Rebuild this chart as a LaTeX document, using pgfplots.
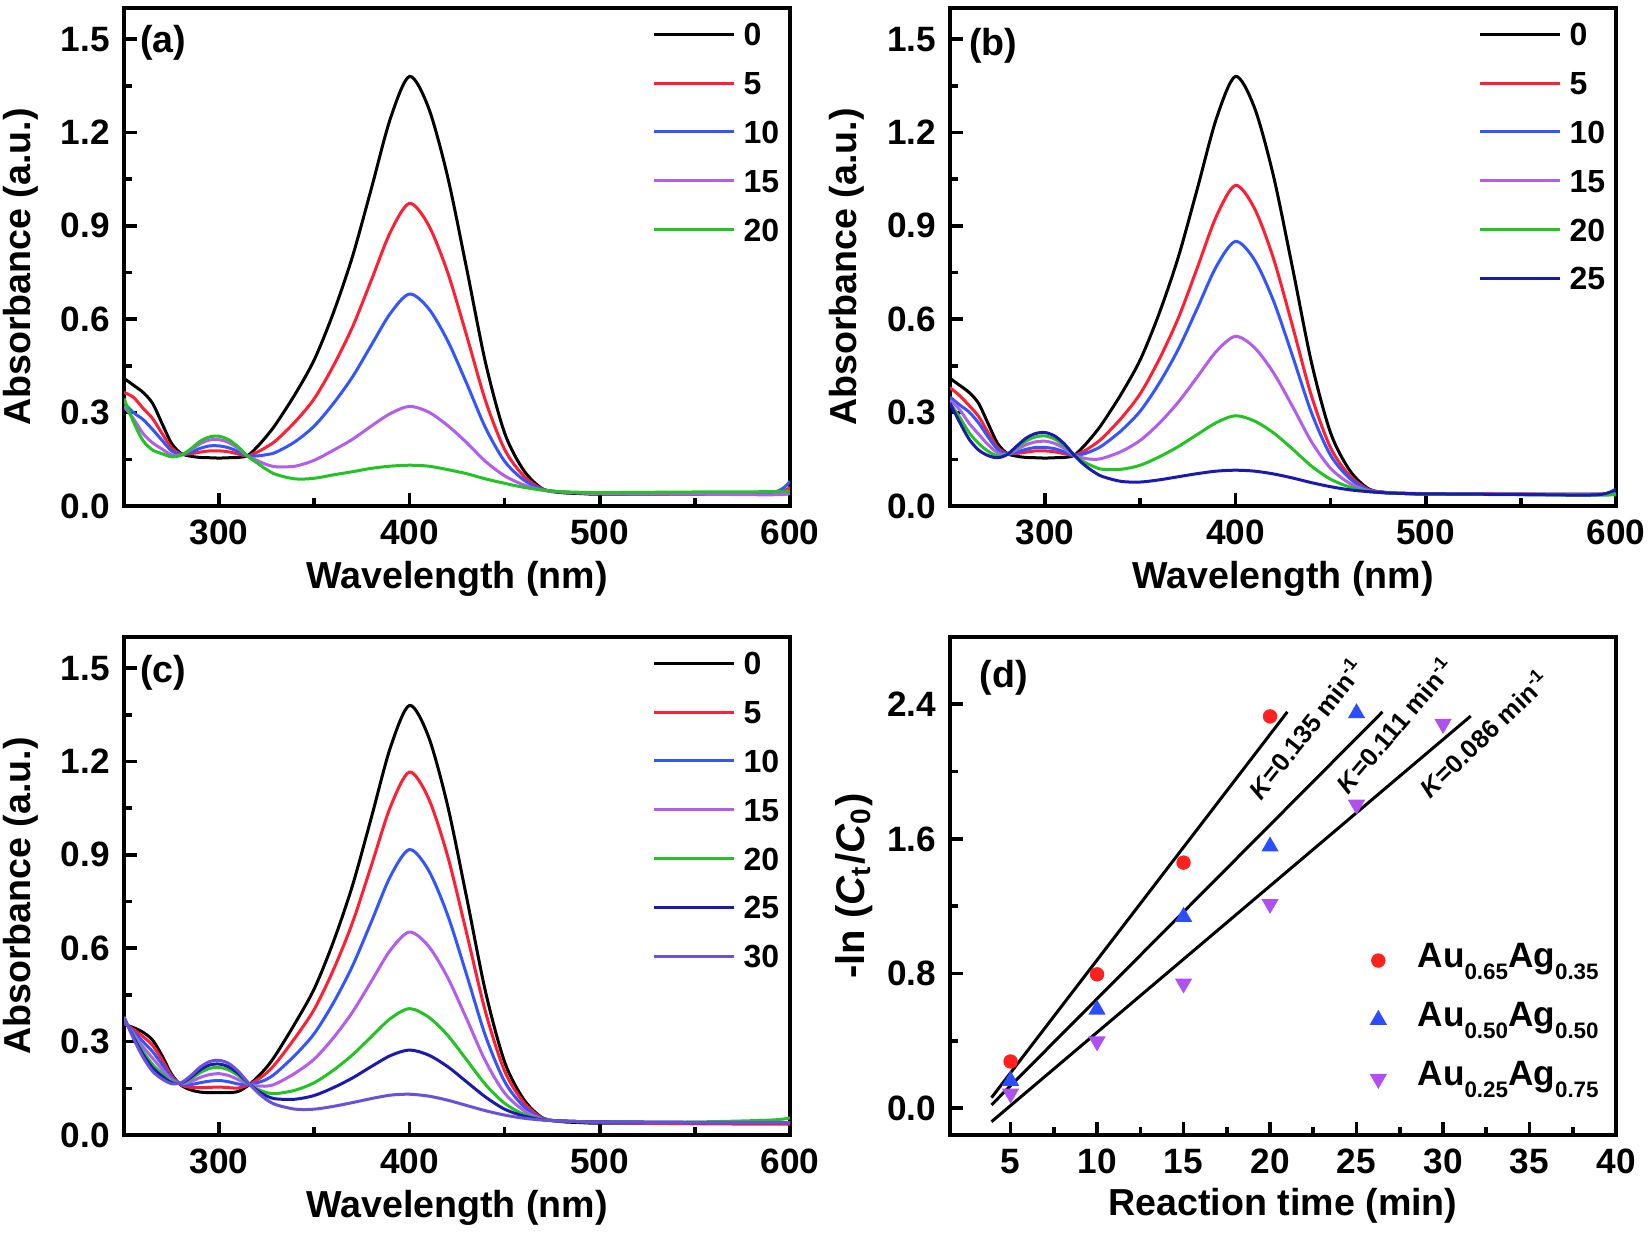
\documentclass[border=0pt]{standalone}
\usepackage{fontspec}
\setmainfont{Liberation Sans}
\usepackage{pgfplots}
\usepackage{pgfplotstable}
\pgfplotsset{compat=1.18}

\definecolor{cR}{HTML}{FF1E32}
\definecolor{cB}{HTML}{3355FF}
\definecolor{cV}{HTML}{B35CF0}
\definecolor{cG}{HTML}{22C422}
\definecolor{cN}{HTML}{1A1AB0}
\definecolor{cP}{HTML}{6A4FE0}
\definecolor{mR}{HTML}{FF2020}
\definecolor{mB}{HTML}{2B4CFF}
\definecolor{mV}{HTML}{B050F0}

\newcommand\subs[1]{\raisebox{-2.9bp}{\fontsize{5.6bp}{6bp}\selectfont #1}}

\pgfplotstableread{
x c0 c5 c10 c15 c20
250 .410 .365 .330 .320 .345
255 .388 .349 .300 .280 .270
260 .365 .314 .278 .233 .210
265 .330 .281 .246 .203 .180
270 .265 .233 .211 .183 .168
275 .201 .187 .177 .164 .158
280 .169 .167 .166 .164 .163
285 .160 .168 .173 .180 .183
290 .156 .173 .185 .200 .208
295 .155 .177 .193 .212 .222
300 .154 .177 .193 .213 .224
305 .155 .174 .187 .204 .213
310 .156 .167 .175 .185 .190
315 .162 .161 .161 .160 .160
320 .190 .173 .161 .146 .138
325 .225 .190 .165 .133 .117
330 .265 .211 .173 .126 .101
340 .360 .271 .207 .128 .087
350 .470 .345 .257 .147 .089
360 .620 .450 .329 .179 .100
370 .800 .574 .414 .214 .110
380 1.020 .726 .517 .257 .121
390 1.245 .880 .619 .297 .128
400 1.380 .972 .681 .320 .131
410 1.280 .903 .635 .302 .128
420 1.060 .752 .532 .259 .117
430 .765 .549 .395 .204 .104
440 .460 .338 .251 .143 .087
450 .235 .182 .144 .097 .073
460 .115 .097 .084 .068 .060
470 .055 .054 .053 .051 .051
480 .043 .045 .045 .045 .046
490 .040 .042 .042 .042 .044
500 .038 .040 .040 .040 .043
550 .038 .040 .040 .038 .045
590 .038 .040 .042 .036 .046
600 .040 .060 .080 .040 .048
}\tA

\pgfplotstableread{
x c0 c5 c10 c15 c20 c25
250 .410 .380 .350 .340 .330 .330
255 .388 .355 .325 .310 .286 .270
260 .365 .323 .302 .266 .236 .215
265 .330 .288 .267 .231 .201 .180
270 .265 .236 .222 .197 .176 .162
275 .201 .188 .182 .171 .161 .155
280 .169 .168 .167 .166 .166 .165
285 .160 .169 .173 .181 .188 .192
290 .156 .173 .182 .197 .209 .218
295 .155 .177 .188 .206 .222 .233
300 .154 .177 .188 .208 .225 .236
305 .155 .174 .184 .201 .215 .225
310 .156 .168 .174 .185 .194 .200
315 .162 .163 .163 .164 .165 .165
320 .190 .175 .167 .154 .143 .135
325 .225 .194 .178 .150 .128 .112
330 .265 .218 .194 .153 .118 .095
340 .360 .282 .242 .175 .118 .079
350 .470 .361 .305 .211 .131 .077
360 .620 .472 .395 .266 .158 .084
370 .800 .604 .504 .334 .191 .094
380 1.020 .766 .636 .415 .230 .104
390 1.245 .931 .770 .497 .268 .112
400 1.380 1.030 .850 .545 .290 .115
410 1.280 .956 .791 .509 .273 .112
420 1.060 .795 .659 .428 .235 .103
430 .765 .578 .482 .320 .183 .090
440 .460 .353 .299 .206 .128 .075
450 .235 .187 .163 .121 .086 .062
460 .115 .098 .089 .073 .061 .052
470 .055 .053 .051 .049 .047 .046
480 .043 .043 .042 .042 .042 .042
490 .040 .041 .040 .040 .040 .040
500 .038 .040 .039 .039 .039 .039
550 .038 .038 .037 .037 .036 .037
590 .038 .037 .037 .036 .035 .036
600 .040 .040 .040 .038 .036 .055
}\tB

\pgfplotstableread{
x c0 c5 c10 c15 c20 c25 c30
250 .355 .359 .364 .370 .374 .377 .380
255 .345 .339 .332 .325 .318 .314 .310
260 .330 .316 .300 .283 .268 .259 .250
265 .305 .288 .268 .247 .227 .216 .205
270 .255 .242 .227 .211 .197 .189 .180
275 .195 .190 .184 .178 .172 .168 .165
280 .160 .161 .163 .165 .166 .167 .168
285 .145 .153 .162 .171 .180 .185 .190
290 .138 .152 .168 .185 .200 .209 .218
295 .136 .153 .173 .194 .214 .225 .236
300 .136 .154 .175 .197 .217 .228 .240
305 .136 .152 .171 .191 .209 .219 .230
310 .140 .151 .164 .178 .191 .198 .205
315 .158 .160 .162 .165 .167 .169 .170
320 .185 .177 .168 .158 .148 .143 .138
325 .218 .200 .179 .157 .136 .125 .113
330 .260 .232 .200 .165 .133 .116 .097
340 .360 .313 .257 .199 .144 .115 .083
350 .470 .404 .326 .244 .168 .127 .083
360 .620 .530 .424 .312 .208 .152 .092
370 .800 .681 .542 .394 .257 .183 .104
380 1.020 .866 .685 .494 .316 .220 .117
390 1.245 1.054 .831 .594 .374 .255 .128
400 1.380 1.166 .917 .652 .406 .273 .131
410 1.280 1.082 .851 .607 .379 .257 .125
420 1.060 .898 .708 .507 .321 .220 .112
430 .765 .650 .516 .374 .242 .171 .095
440 .460 .395 .318 .237 .162 .122 .078
450 .235 .206 .172 .135 .102 .083 .064
460 .115 .105 .092 .079 .067 .061 .054
470 .055 .054 .052 .051 .050 .049 .048
480 .043 .045 .045 .045 .045 .045 .045
490 .040 .043 .043 .043 .043 .043 .043
500 .038 .040 .042 .042 .042 .042 .042
550 .038 .036 .040 .040 .042 .040 .040
590 .038 .035 .040 .040 .048 .040 .040
600 .040 .035 .040 .040 .055 .040 .040
}\tC

\pgfplotsset{
  base/.style={
    scale only axis, width=166.5bp, height=124.5bp,
    axis line style={line width=1.1bp},
    tick align=inside, tick pos=left,
    major tick length=3.3bp, minor tick length=2bp,
    every tick/.style={line width=0.9bp, black},
    /pgf/number format/assume math mode=true,
    tick label style={font=\fontsize{8.8bp}{10bp}\selectfont\bfseries},
    label style={font=\fontsize{9.4bp}{11bp}\selectfont\bfseries},
    x label style={at={(axis description cs:0.5,-0.147)}, anchor=center},
    y label style={at={(axis description cs:-0.155,0.48)}, anchor=center},
    yticklabel style={/pgf/number format/.cd, fixed, fixed zerofill, precision=1},
  },
  spec/.style={
    base,
    xmin=250, xmax=600, ymin=0, ymax=1.6,
    xtick={300,400,500,600}, minor x tick num=1,
    ytick={0,0.3,0.6,0.9,1.2,1.5}, minor y tick num=1,
    xlabel={Wavelength (nm)}, ylabel={Absorbance (a.u.)},
    every axis plot/.append style={smooth, line width=0.75bp, no marks},
    legend cell align=left,
    legend image code/.code={\draw[##1, line width=0.75bp] (0bp,0bp) -- (20bp,0bp);},
    legend style={draw=none, fill=none, at={(0.985,0.972)}, anchor=north east,
      font=\fontsize{8bp}{9bp}\selectfont\bfseries,
      row sep=6.4bp, inner sep=0pt,
      nodes={inner sep=0pt, text height=5.8bp, text depth=0pt},
      /tikz/every odd column/.append style={column sep=2bp}},
  },
  kin/.style={
    legend image code/.code={\draw[##1] plot coordinates {(0bp,0bp)};},
  },
}

\begin{document}
\begin{tikzpicture}
\useasboundingbox (0,0) rectangle (412bp,308.75bp);

% (a)
\begin{axis}[spec, at={(31bp,182.25bp)}, anchor=south west]
\addplot[black] table[x=x,y=c0]{\tA};
\addplot[cR] table[x=x,y=c5]{\tA};
\addplot[cB] table[x=x,y=c10]{\tA};
\addplot[cV] table[x=x,y=c15]{\tA};
\addplot[cG] table[x=x,y=c20]{\tA};
\legend{0,5,10,15,20}
\node[font=\fontsize{9.4bp}{11bp}\selectfont\bfseries] at (axis description cs:0.059,0.93) {(a)};
\end{axis}

% (b)
\begin{axis}[spec, at={(237.5bp,182.25bp)}, anchor=south west]
\addplot[black] table[x=x,y=c0]{\tB};
\addplot[cR] table[x=x,y=c5]{\tB};
\addplot[cB] table[x=x,y=c10]{\tB};
\addplot[cV] table[x=x,y=c15]{\tB};
\addplot[cG] table[x=x,y=c20]{\tB};
\addplot[cN] table[x=x,y=c25]{\tB};
\legend{0,5,10,15,20,25}
\node[font=\fontsize{9.4bp}{11bp}\selectfont\bfseries] at (axis description cs:0.065,0.924) {(b)};
\end{axis}

% (c)
\begin{axis}[spec, at={(31bp,25bp)}, anchor=south west]
\addplot[black] table[x=x,y=c0]{\tC};
\addplot[cR] table[x=x,y=c5]{\tC};
\addplot[cB] table[x=x,y=c10]{\tC};
\addplot[cV] table[x=x,y=c15]{\tC};
\addplot[cG] table[x=x,y=c20]{\tC};
\addplot[cN] table[x=x,y=c25]{\tC};
\addplot[cP] table[x=x,y=c30]{\tC};
\legend{0,5,10,15,20,25,30}
\node[font=\fontsize{9.4bp}{11bp}\selectfont\bfseries] at (axis description cs:0.059,0.928) {(c)};
\end{axis}

% (d)
\begin{axis}[base, kin, at={(237.5bp,25bp)}, anchor=south west,
  xmin=1.5, xmax=40, ymin=-0.16, ymax=2.8,
  xtick={5,10,15,20,25,30,35,40}, minor x tick num=1,
  ytick={0,0.8,1.6,2.4}, minor y tick num=1,
  xticklabel style={/pgf/number format/.cd, fixed, precision=0},
  xlabel={Reaction time (min)},
  ylabel={-ln (\textit{C}\textsubscript{t}/\textit{C}\textsubscript{0})},
  y label style={at={(axis description cs:-0.144,0.5)}, font=\fontsize{10bp}{12bp}\selectfont\bfseries},
  x label style={at={(axis description cs:0.5,-0.142)}},
  legend cell align=left,
  legend style={draw=none, fill=none, at={(0.631,0.39)}, anchor=north west,
    font=\fontsize{8.8bp}{10bp}\selectfont\bfseries,
    row sep=5.3bp, inner sep=0pt,
    nodes={inner sep=0pt, text height=6.5bp, text depth=3bp},
    /tikz/every odd column/.append style={column sep=8bp}},
]
\addplot[black, line width=0.75bp, forget plot] coordinates {(3.9,0.062) (21.0,2.355)};
\addplot[black, line width=0.75bp, forget plot] coordinates {(3.9,0.019) (26.5,2.355)};
\addplot[black, line width=0.75bp, forget plot] coordinates {(3.9,-0.081) (31.6,2.33)};
\addplot[only marks, mark=*, mark size=1.6bp, color=mR, mark options={fill=mR, draw=mR}]
  coordinates {(5,0.277) (10,0.795) (15,1.459) (20,2.328)};
\addplot[only marks, mark=triangle*, mark size=2.1bp, color=mB, mark options={fill=mB, draw=mB}]
  coordinates {(5,0.162) (10,0.585) (15,1.137) (20,1.555) (25,2.347)};
\addplot[only marks, mark=triangle*, mark size=2.1bp, color=mV, mark options={fill=mV, draw=mV, rotate=180}]
  coordinates {(5,0.086) (10,0.396) (15,0.740) (20,1.213) (25,1.803) (30,2.283)};
\legend{Au\subs{0.65}Ag\subs{0.35}, Au\subs{0.50}Ag\subs{0.50}, Au\subs{0.25}Ag\subs{0.75}}
\node[font=\fontsize{9.4bp}{11bp}\selectfont\bfseries] at (axis description cs:0.081,0.918) {(d)};
\node[rotate=51.5, font=\fontsize{6.4bp}{7bp}\selectfont\bfseries] at (axis cs:22.05,2.26) {\textit{K}=0.135 min\textsuperscript{-1}};
\node[rotate=49.5, font=\fontsize{6.4bp}{7bp}\selectfont\bfseries] at (axis cs:27.2,2.28) {\textit{K}=0.111 min\textsuperscript{-1}};
\node[rotate=44, font=\fontsize{6.4bp}{7bp}\selectfont\bfseries] at (axis cs:32.35,2.23) {\textit{K}=0.086 min\textsuperscript{-1}};
\end{axis}
\end{tikzpicture}
\end{document}
